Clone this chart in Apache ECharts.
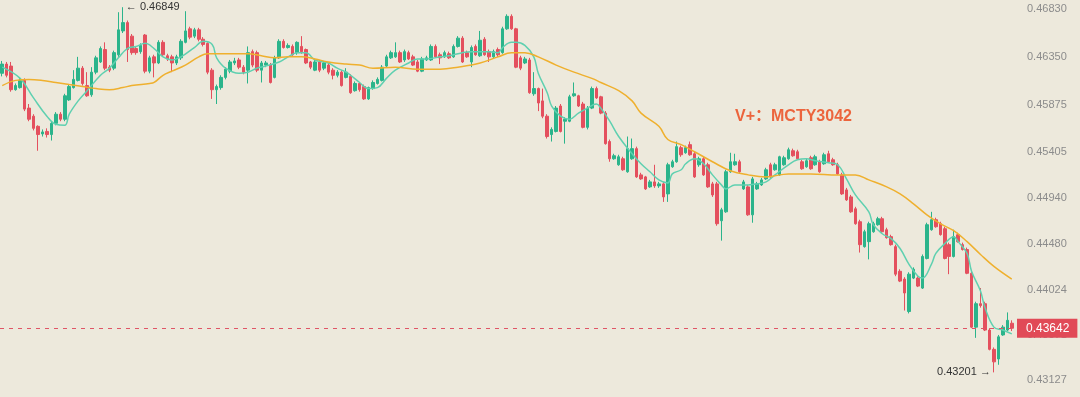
<!DOCTYPE html>
<html>
<head>
<meta charset="utf-8">
<title>MCTY candles</title>
<script src="https://cdn.jsdelivr.net/npm/echarts@6.0.0/dist/echarts.min.js"></script>
<style>
  html, body { margin: 0; padding: 0; background: #ede9dc; }
  #chart { width: 1080px; height: 397px; }
</style>
</head>
<body>
<div id="chart"></div>
<script>
// each row: [open, close, low, high]
const kData = [
  [0.46189,0.46281,0.46158,0.46312],[0.46281,0.46169,0.46148,0.46302],[0.46261,0.46025,0.46005,0.46302],[0.46025,0.46066,0.46015,0.46087],
  [0.46046,0.46118,0.46036,0.46148],[0.46118,0.45831,0.45811,0.46138],[0.45841,0.45730,0.45710,0.45882],[0.45760,0.45639,0.45618,0.45780],
  [0.45659,0.45577,0.45415,0.45669],[0.45583,0.45603,0.45557,0.45628],[0.45608,0.45577,0.45547,0.45639],[0.45577,0.45689,0.45517,0.45710],
  [0.45689,0.45780,0.45669,0.45801],[0.45780,0.45730,0.45710,0.45801],[0.45730,0.45964,0.45710,0.45984],[0.45923,0.46056,0.45913,0.46076],
  [0.46046,0.46128,0.46036,0.46220],[0.46118,0.46240,0.46107,0.46353],[0.46240,0.46087,0.46066,0.46261],[0.46066,0.45964,0.45954,0.46200],
  [0.45974,0.46200,0.45954,0.46250],[0.46200,0.46343,0.46179,0.46364],[0.46302,0.46436,0.46292,0.46457],[0.46426,0.46240,0.46220,0.46498],
  [0.46250,0.46220,0.46200,0.46271],[0.46240,0.46395,0.46220,0.46415],[0.46374,0.46623,0.46353,0.46799],[0.46612,0.46695,0.46591,0.46849],
  [0.46695,0.46426,0.46302,0.46716],[0.46560,0.46395,0.46374,0.46581],[0.46436,0.46395,0.46374,0.46457],[0.46405,0.46467,0.46384,0.46488],
  [0.46571,0.46210,0.46189,0.46581],[0.46210,0.46343,0.46189,0.46364],[0.46353,0.46292,0.46148,0.46374],[0.46292,0.46498,0.46281,0.46519],
  [0.46498,0.46374,0.46353,0.46519],[0.46364,0.46332,0.46312,0.46384],[0.46353,0.46292,0.46200,0.46374],[0.46292,0.46353,0.46271,0.46374],
  [0.46343,0.46508,0.46322,0.46529],[0.46498,0.46612,0.46488,0.46809],[0.46633,0.46550,0.46529,0.46654],[0.46560,0.46623,0.46540,0.46643],
  [0.46623,0.46529,0.46508,0.46643],[0.46529,0.46477,0.46457,0.46550],[0.46488,0.46200,0.46179,0.46498],[0.46220,0.46025,0.45933,0.46240],
  [0.46025,0.46056,0.45882,0.46076],[0.46046,0.46148,0.46025,0.46169],[0.46148,0.46230,0.46128,0.46250],[0.46210,0.46302,0.46189,0.46322],
  [0.46292,0.46312,0.46271,0.46343],[0.46322,0.46250,0.46230,0.46343],[0.46250,0.46200,0.46179,0.46271],[0.46220,0.46395,0.46087,0.46457],
  [0.46405,0.46271,0.46250,0.46426],[0.46395,0.46220,0.46200,0.46415],[0.46220,0.46292,0.46097,0.46312],[0.46271,0.46292,0.46250,0.46312],
  [0.46271,0.46097,0.46087,0.46292],[0.46148,0.46343,0.46138,0.46364],[0.46343,0.46508,0.46332,0.46529],[0.46508,0.46446,0.46436,0.46529],
  [0.46446,0.46467,0.46436,0.46488],[0.46457,0.46374,0.46364,0.46477],[0.46395,0.46498,0.46374,0.46508],[0.46457,0.46405,0.46384,0.46560],
  [0.46426,0.46292,0.46281,0.46436],[0.46302,0.46250,0.46230,0.46312],[0.46220,0.46302,0.46210,0.46322],[0.46302,0.46220,0.46200,0.46322],
  [0.46240,0.46292,0.46220,0.46312],[0.46271,0.46200,0.46179,0.46292],[0.46220,0.46169,0.46128,0.46240],[0.46169,0.46200,0.46148,0.46220],
  [0.46200,0.46066,0.46056,0.46220],[0.46148,0.46200,0.46138,0.46240],[0.46158,0.45995,0.45984,0.46179],[0.46015,0.46087,0.46005,0.46107],
  [0.46087,0.46025,0.46005,0.46097],[0.46056,0.45933,0.45923,0.46076],[0.45933,0.46046,0.45923,0.46056],[0.46036,0.46097,0.46025,0.46118],
  [0.46087,0.46128,0.46076,0.46148],[0.46118,0.46250,0.46107,0.46271],[0.46261,0.46353,0.46250,0.46374],[0.46343,0.46395,0.46332,0.46415],
  [0.46353,0.46395,0.46343,0.46498],[0.46395,0.46302,0.46292,0.46415],[0.46322,0.46405,0.46302,0.46426],[0.46395,0.46332,0.46322,0.46415],
  [0.46353,0.46271,0.46261,0.46374],[0.46302,0.46210,0.46200,0.46322],[0.46210,0.46332,0.46200,0.46353],[0.46322,0.46343,0.46312,0.46364],
  [0.46322,0.46457,0.46312,0.46477],[0.46457,0.46353,0.46343,0.46477],[0.46374,0.46343,0.46281,0.46395],[0.46353,0.46395,0.46343,0.46415],
  [0.46384,0.46343,0.46332,0.46405],[0.46353,0.46457,0.46343,0.46477],[0.46457,0.46540,0.46446,0.46560],[0.46540,0.46302,0.46292,0.46560],
  [0.46395,0.46353,0.46343,0.46415],[0.46302,0.46446,0.46250,0.46467],[0.46457,0.46374,0.46364,0.46477],[0.46364,0.46519,0.46353,0.46612],
  [0.46529,0.46374,0.46364,0.46550],[0.46405,0.46353,0.46302,0.46426],[0.46353,0.46405,0.46343,0.46426],[0.46426,0.46374,0.46353,0.46446],
  [0.46395,0.46633,0.46384,0.46654],[0.46633,0.46758,0.46623,0.46778],[0.46758,0.46633,0.46623,0.46778],[0.46633,0.46250,0.46240,0.46643],
  [0.46343,0.46240,0.46220,0.46364],[0.46292,0.46332,0.46281,0.46353],[0.46322,0.45995,0.45984,0.46343],[0.45984,0.46036,0.45964,0.46200],
  [0.46036,0.45892,0.45811,0.46046],[0.45913,0.45760,0.45740,0.46036],[0.45760,0.45557,0.45537,0.45780],[0.45577,0.45628,0.45507,0.45649],
  [0.45608,0.45841,0.45598,0.45862],[0.45862,0.45608,0.45598,0.45882],[0.45710,0.45730,0.45486,0.45750],[0.45710,0.45954,0.45700,0.45974],
  [0.45964,0.45984,0.45954,0.46097],[0.45964,0.45862,0.45852,0.45974],[0.45882,0.45649,0.45639,0.45903],[0.45649,0.45841,0.45628,0.45862],
  [0.45841,0.46036,0.45831,0.46056],[0.46036,0.45943,0.45933,0.46056],[0.45954,0.45791,0.45780,0.45964],[0.45791,0.45486,0.45476,0.45811],
  [0.45507,0.45335,0.45305,0.45527],[0.45335,0.45365,0.45325,0.45385],[0.45275,0.45355,0.45265,0.45375],[0.45335,0.45225,0.45215,0.45355],
  [0.45205,0.45436,0.45195,0.45557],[0.45335,0.45436,0.45325,0.45537],[0.45436,0.45154,0.45144,0.45456],[0.45174,0.45134,0.45124,0.45195],
  [0.45154,0.45034,0.45024,0.45164],[0.45054,0.45104,0.45044,0.45124],[0.45104,0.45064,0.45044,0.45275],[0.45064,0.45084,0.45044,0.45104],
  [0.45084,0.44954,0.44904,0.45104],[0.44984,0.45275,0.44904,0.45295],[0.45255,0.45305,0.45245,0.45325],[0.45305,0.45456,0.45295,0.45507],
  [0.45446,0.45375,0.45355,0.45466],[0.45395,0.45446,0.45385,0.45466],[0.45476,0.45375,0.45365,0.45507],[0.45385,0.45154,0.45144,0.45405],
  [0.45275,0.45335,0.45255,0.45355],[0.45335,0.45174,0.45164,0.45355],[0.45275,0.45054,0.45044,0.45295],[0.45084,0.44974,0.44954,0.45104],
  [0.45084,0.44686,0.44666,0.45104],[0.44716,0.44825,0.44517,0.44845],[0.44805,0.45205,0.44795,0.45225],[0.45205,0.45305,0.45195,0.45395],
  [0.45275,0.45305,0.45265,0.45385],[0.45305,0.45205,0.45195,0.45325],[0.45034,0.45104,0.45024,0.45124],[0.45054,0.44775,0.44765,0.45074],
  [0.44775,0.45134,0.44696,0.45154],[0.45034,0.45084,0.45024,0.45104],[0.45074,0.45124,0.45064,0.45144],[0.45134,0.45225,0.45124,0.45245],
  [0.45275,0.45154,0.45144,0.45295],[0.45225,0.45275,0.45215,0.45295],[0.45174,0.45355,0.45164,0.45365],[0.45275,0.45345,0.45265,0.45365],
  [0.45335,0.45425,0.45325,0.45446],[0.45415,0.45365,0.45355,0.45436],[0.45405,0.45335,0.45325,0.45425],[0.45305,0.45235,0.45225,0.45325],
  [0.45255,0.45315,0.45245,0.45335],[0.45345,0.45235,0.45225,0.45365],[0.45275,0.45355,0.45265,0.45375],[0.45305,0.45205,0.45195,0.45325],
  [0.45285,0.45375,0.45275,0.45395],[0.45385,0.45305,0.45295,0.45415],[0.45325,0.45275,0.45265,0.45345],[0.45275,0.45184,0.45174,0.45295],
  [0.45174,0.44984,0.44974,0.45195],[0.45024,0.44924,0.44914,0.45044],[0.44954,0.44805,0.44795,0.44974],[0.44835,0.44686,0.44676,0.44855],
  [0.44706,0.44477,0.44398,0.44726],[0.44457,0.44606,0.44447,0.44626],[0.44507,0.44686,0.44330,0.44706],[0.44606,0.44686,0.44596,0.44706],
  [0.44676,0.44736,0.44666,0.44755],[0.44736,0.44606,0.44596,0.44755],[0.44626,0.44547,0.44537,0.44646],[0.44557,0.44477,0.44467,0.44576],
  [0.44457,0.44182,0.44162,0.44477],[0.44211,0.44113,0.44103,0.44231],[0.44133,0.43994,0.43819,0.44152],[0.43809,0.44182,0.43790,0.44201],
  [0.44143,0.44231,0.44133,0.44250],[0.44143,0.44063,0.44053,0.44162],[0.44043,0.44359,0.44034,0.44379],[0.44339,0.44676,0.44330,0.44696],
  [0.44626,0.44726,0.44616,0.44805],[0.44726,0.44656,0.44646,0.44746],[0.44686,0.44577,0.44567,0.44706],[0.44636,0.44339,0.44330,0.44656],
  [0.44477,0.44359,0.44182,0.44497],[0.44359,0.44557,0.44349,0.44626],[0.44576,0.44507,0.44497,0.44596],[0.44477,0.44428,0.44418,0.44497],
  [0.44428,0.44191,0.44182,0.44447],[0.44191,0.43653,0.43643,0.44211],[0.43653,0.43887,0.43546,0.43907],[0.43887,0.43868,0.43848,0.44044],
  [0.43887,0.43624,0.43614,0.43907],[0.43624,0.43431,0.43421,0.43643],[0.43431,0.43306,0.43201,0.43450],[0.43335,0.43556,0.43277,0.43575],
  [0.43575,0.43653,0.43566,0.43673],[0.43624,0.43721,0.43614,0.43800],[0.43692,0.43642,0.43614,0.43721]
]

// fast moving average: [candle index, value]
const maFast = [
  [0,0.46250],[4,0.46138],[7,0.45943],[10,0.45760],[12,0.45679],[14,0.45669],[15,0.45780],[17,0.45913],
  [19,0.46015],[22,0.46169],[24,0.46240],[26,0.46343],[28,0.46436],[30,0.46457],[32,0.46488],[34,0.46436],
  [36,0.46353],[38,0.46322],[40,0.46353],[43,0.46446],[45,0.46508],[47,0.46477],[48,0.46343],[50,0.46240],
  [53,0.46189],[55,0.46200],[57,0.46240],[59,0.46261],[62,0.46302],[64,0.46353],[66,0.46395],[68,0.46395],
  [70,0.46322],[73,0.46292],[75,0.46240],[77,0.46200],[78,0.46169],[80,0.46097],[82,0.46036],[84,0.46046],
  [86,0.46138],[88,0.46220],[91,0.46292],[93,0.46332],[95,0.46332],[98,0.46353],[100,0.46364],[103,0.46395],
  [105,0.46405],[109,0.46405],[111,0.46395],[112,0.46446],[114,0.46498],[115,0.46498],[117,0.46467],[119,0.46353],
  [120,0.46189],[122,0.45995],[123,0.45862],[125,0.45760],[127,0.45730],[129,0.45791],[131,0.45841],[133,0.45882],
  [134,0.45841],[136,0.45710],[138,0.45557],[141,0.45385],[143,0.45285],[145,0.45205],[147,0.45124],[149,0.45094],
  [150,0.45184],[152,0.45225],[153,0.45285],[155,0.45335],[157,0.45285],[159,0.45174],[161,0.45074],[162,0.45034],
  [164,0.45074],[167,0.45074],[169,0.45084],[171,0.45104],[173,0.45174],[176,0.45275],[178,0.45325],[180,0.45335],
  [182,0.45315],[185,0.45295],[187,0.45275],[189,0.45134],[191,0.44974],[194,0.44805],[195,0.44676],[197,0.44586],
  [199,0.44537],[201,0.44438],[203,0.44280],[205,0.44162],[206,0.44143],[208,0.44280],[209,0.44389],[211,0.44487],
  [213,0.44557],[214,0.44507],[216,0.44389],[217,0.44211],[219,0.44014],[220,0.43848],[222,0.43653],[224,0.43624],
  [226,0.43585]
]

// slow moving average: [candle index, value]
const maSlow = [
  [0,0.46066],[3,0.46118],[6,0.46128],[9,0.46118],[12,0.46097],[15,0.46076],[18,0.46056],[21,0.46036],
  [24,0.46025],[27,0.46046],[29,0.46066],[33,0.46087],[34,0.46097],[36,0.46169],[38,0.46210],[41,0.46271],
  [44,0.46353],[46,0.46384],[49,0.46384],[52,0.46384],[55,0.46384],[58,0.46364],[61,0.46343],[64,0.46353],
  [67,0.46353],[70,0.46332],[73,0.46302],[77,0.46281],[80,0.46271],[83,0.46240],[88,0.46250],[93,0.46230],
  [98,0.46230],[102,0.46250],[107,0.46292],[111,0.46353],[114,0.46395],[117,0.46395],[120,0.46353],[124,0.46271],
  [128,0.46200],[132,0.46138],[134,0.46097],[138,0.46015],[141,0.45913],[143,0.45791],[147,0.45659],[149,0.45527],
  [152,0.45476],[155,0.45405],[159,0.45305],[163,0.45215],[167,0.45174],[171,0.45154],[176,0.45184],[181,0.45184],
  [187,0.45174],[191,0.45174],[194,0.45124],[198,0.45054],[201,0.44984],[204,0.44885],[207,0.44775],[210,0.44686],
  [213,0.44616],[216,0.44507],[219,0.44379],[222,0.44260],[226,0.44133]
]

const priceTicks = [0.43127, 0.43571, 0.44024, 0.44480, 0.44940, 0.45405, 0.45875, 0.46350, 0.46830]
const lastPrice = 0.43642
const watermark = 'V+：MCTY3042'

const upColor = '#2bb48b'
const downColor = '#e4505e'

const chart = echarts.init(document.getElementById('chart'))
chart.setOption({
  backgroundColor: '#ede9dc',
  animation: false,
  title: {
    text: watermark,
    left: 735,
    top: 109,
    padding: 0,
    textStyle: {
      color: '#ec643c',
      fontSize: 16,
      fontWeight: 'bold',
      fontFamily: 'Liberation Sans, Noto Sans CJK SC, sans-serif'
    }
  },
  grid: {
    left: 0,
    right: 66,
    top: 2.1,
    bottom: 4.5
  },
  xAxis: {
    type: 'category',
    data: kData.map((d, i) => i),
    boundaryGap: true,
    show: false
  },
  yAxis: {
    type: 'value',
    position: 'right',
    min: 0.430,
    max: 0.469,
    axisLine: { show: false },
    axisTick: { show: false },
    splitLine: { show: false },
    axisLabel: {
      customValues: priceTicks,
      margin: 13,
      color: '#8c8c8c',
      fontSize: 11,
      fontFamily: 'Liberation Sans, sans-serif',
      formatter: v => v.toFixed(5)
    }
  },
  series: [
    {
      type: 'candlestick',
      data: kData,
      barWidth: 3,
      itemStyle: {
        color: upColor,
        color0: downColor,
        borderColor: upColor,
        borderColor0: downColor,
        borderWidth: 1
      },
      markPoint: {
        symbol: 'circle',
        symbolSize: 2,
        precision: 5,
        itemStyle: { color: 'rgba(0,0,0,0)' },
        label: {
          color: '#333',
          fontSize: 11,
          fontFamily: 'Liberation Sans, DejaVu Sans, sans-serif'
        },
        data: [
          {
            type: 'max',
            valueDim: 'highest',
            label: { position: 'right', distance: 2, formatter: p => '← ' + p.value.toFixed(5) }
          },
          {
            type: 'min',
            valueDim: 'lowest',
            label: { position: 'left', distance: 2, formatter: p => p.value.toFixed(5) + ' →' }
          }
        ]
      },
      markLine: {
        symbol: ['none', 'none'],
        silent: true,
        precision: 5,
        lineStyle: {
          color: '#e05566',
          type: [4, 5],
          width: 1
        },
        label: {
          position: 'end',
          distance: 3,
          formatter: p => p.value.toFixed(5),
          color: '#fff',
          backgroundColor: '#e14a57',
          padding: [4, 8, 3, 9],
          fontSize: 12,
          fontFamily: 'Liberation Sans, sans-serif'
        },
        data: [{ yAxis: lastPrice }]
      }
    },
    {
      name: 'MA fast',
      type: 'line',
      data: maFast,
      smooth: 0.4,
      showSymbol: false,
      lineStyle: { color: '#5fd0b0', width: 1.5 },
      z: 3
    },
    {
      name: 'MA slow',
      type: 'line',
      data: maSlow,
      smooth: 0.4,
      showSymbol: false,
      lineStyle: { color: '#efb02e', width: 1.5 },
      z: 3
    }
  ]
})
</script>
</body>
</html>
